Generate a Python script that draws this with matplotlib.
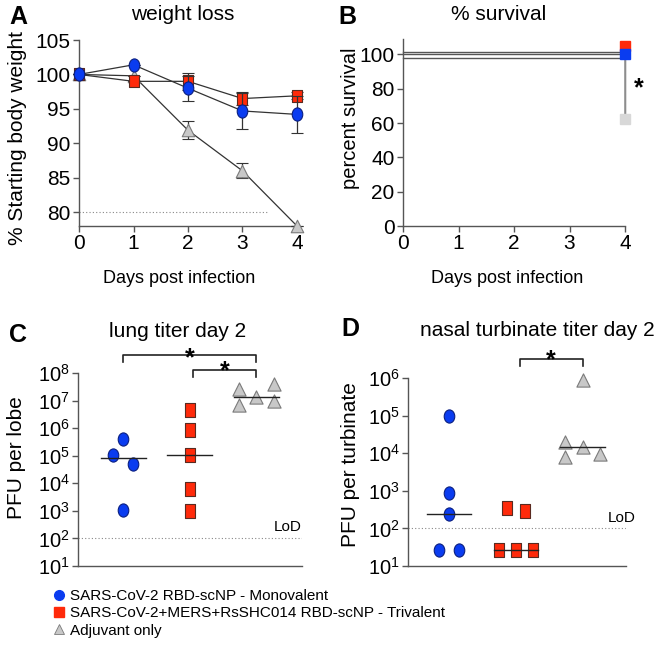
import numpy as np
import matplotlib
matplotlib.use('Agg')
import matplotlib.pyplot as plt
from matplotlib.path import Path
from matplotlib.transforms import Affine2D
from matplotlib.lines import Line2D
from matplotlib.ticker import FixedLocator, NullLocator, FixedFormatter

plt.rcParams['font.family'] = ['Liberation Sans', 'DejaVu Sans']
plt.rcParams['mathtext.fontset'] = 'custom'
plt.rcParams['mathtext.rm'] = 'Liberation Sans'
plt.rcParams['mathtext.it'] = 'Liberation Sans:italic'
plt.rcParams['mathtext.bf'] = 'Liberation Sans:bold'

# ---------------- data ----------------
group_names = ['SARS-CoV-2 RBD-scNP - Monovalent',
               'SARS-CoV-2+MERS+RsSHC014 RBD-scNP - Trivalent',
               'Adjuvant only']

days = [0, 1, 2, 3, 4]
weight_mono = [100.0, 101.4, 98.0, 94.7, 94.2]
weight_mono_err = [0.0, 0.0, 1.8, 2.6, 2.7]
weight_tri = [100.0, 99.0, 99.0, 96.5, 96.9]
weight_tri_err = [0.0, 0.0, 1.2, 1.0, 0.5]
weight_adj = [100.0, 99.8, 91.9, 86.0, 78.0]
weight_adj_err = [0.0, 0.0, 1.3, 1.1, 0.0]
weight_threshold = 80

surv_days = [0, 4]
surv_mono = [100, 100]
surv_tri = [100, 100]
surv_adj = [100, 62.5]

lung_mono = [3.9e5, 1.1e5, 5.2e4, 1.1e3]
lung_tri = [4.5e6, 8.3e5, 1.05e5, 6.0e3, 1.0e3]
lung_adj = [2.7e7, 6.8e6, 1.3e7, 4.1e7, 1.0e7]

nasal_mono = [1.0e5, 850, 245, 27, 27]
nasal_tri = [355, 290, 26, 26, 26]
nasal_adj = [8.7e5, 2.0e4, 7.9e3, 1.5e4, 9.8e3]

lod = 100

# ---------------- styles ----------------
BLUE = '#0a3cf0'
BLUE_E = '#0a1f80'
RED = '#ff2a0a'
RED_E = '#5a2a20'
GRAY = '#c8c8c8'
GRAY_E = '#7a7a7a'
AX = '#555555'

ell = Path.unit_circle().transformed(Affine2D().scale(0.8, 1.0))
rect = Path([(-0.4, -0.5), (0.4, -0.5), (0.4, 0.5), (-0.4, 0.5), (-0.4, -0.5)],
            [Path.MOVETO, Path.LINETO, Path.LINETO, Path.LINETO, Path.CLOSEPOLY])
tri = Path([(-0.5, -0.5), (0.5, -0.5), (0.0, 0.5), (-0.5, -0.5)],
           [Path.MOVETO, Path.LINETO, Path.LINETO, Path.CLOSEPOLY])

W, H = 664, 657
fig = plt.figure(figsize=(W / 100, H / 100), dpi=100)


def ax_px(l, t, r, b):
    return fig.add_axes([l / W, 1 - b / H, (r - l) / W, (b - t) / H])


def ftext(x, y, s, **kw):
    return fig.text(x / W, 1 - y / H, s, **kw)


def style(ax):
    for s in ['top', 'right']:
        ax.spines[s].set_visible(False)
    for s in ['left', 'bottom']:
        ax.spines[s].set_color(AX)
        ax.spines[s].set_linewidth(1.0)
    ax.tick_params(direction='out', length=4, width=1.0, color=AX, pad=2,
                   labelsize=15, labelcolor='black')


# ---------------- A: weight loss ----------------
axA = ax_px(79, 40, 297, 226)
style(axA)
axA.set_xlim(0, 4)
axA.set_ylim(78, 105)
axA.set_xticks(days)
axA.set_yticks([80, 85, 90, 95, 100, 105])
axA.hlines(weight_threshold, 0, 3.47, colors='#888888', linestyles=(0, (1, 2)), lw=0.8)
specs = [(weight_adj, weight_adj_err, tri, GRAY, GRAY_E, 9, 3),
         (weight_tri, weight_tri_err, rect, RED, RED_E, 9, 4),
         (weight_mono, weight_mono_err, ell, BLUE, BLUE_E, 9.5, 5)]
for vals, err, mk, fc, ec, ms, z in specs:
    axA.errorbar(days, vals, yerr=err, color='#333333', lw=0.9, elinewidth=0.9,
                 capsize=4, capthick=0.9, marker=mk, ms=ms, mfc=fc, mec=ec, mew=0.8,
                 zorder=z, clip_on=False)

# ---------------- B: survival ----------------
axB = ax_px(403, 39, 625, 226)
style(axB)
axB.set_xlim(0, 4)
axB.set_ylim(0, 109)
axB.set_xticks([0, 1, 2, 3, 4])
axB.set_yticks([0, 20, 40, 60, 80, 100])
surv_offsets = [1.5, 0.0, -2.0]
for vals, off in zip([surv_tri, surv_mono], surv_offsets[:2]):
    axB.plot([surv_days[0], surv_days[1]], [vals[0] + off, vals[0] + off],
             color='#555555', lw=1.0, clip_on=False)
axB.step(surv_days, [v + surv_offsets[2] if v == 100 else v for v in surv_adj],
         where='post', color='#555555', lw=1.0, clip_on=False)
axB.plot([surv_days[1], surv_days[1]], [100 + surv_offsets[2], surv_adj[1]],
         color='#999999', lw=1.2, clip_on=False, zorder=3)
axB.plot(surv_days[1], surv_adj[1], 's', ms=6.5, color='#d8d8d8', clip_on=False, zorder=4)
axB.plot(surv_days[1], surv_tri[1] + 5, 's', ms=6.5, color=RED, clip_on=False, zorder=4)
axB.plot(surv_days[1], surv_mono[1] + 0.5, 's', ms=6.5, color=BLUE, clip_on=False, zorder=5)
axB.text(4.24, 87, '*', fontsize=18, fontweight='bold', ha='center', va='top')


# ---------------- C & D: titers ----------------
def titer_panel(ax, groups, offsets, xlim, ylim, dec, med_half):
    style(ax)
    ax.set_yscale('log')
    ax.set_xlim(*xlim)
    ax.set_ylim(*ylim)
    ax.xaxis.set_major_locator(NullLocator())
    ax.tick_params(axis='x', length=0)
    ticks = [10.0 ** k for k in dec]
    ax.yaxis.set_major_locator(FixedLocator(ticks))
    ax.yaxis.set_minor_locator(NullLocator())
    ax.yaxis.set_major_formatter(FixedFormatter([r'$\mathregular{10^{%d}}$' % k for k in dec]))
    ax.tick_params(axis='y', labelsize=14.5)
    ax.axhline(lod, color='#888888', ls=(0, (1, 2)), lw=0.8)
    mk = [ell, rect, tri]
    fcs = [BLUE, RED, GRAY]
    ecs = [BLUE_E, RED_E, GRAY_E]
    for i, (vals, off) in enumerate(zip(groups, offsets)):
        x = i + 1 + np.array(off)
        ax.plot(x, vals, ls='none', marker=mk[i], ms=9.5, mfc=fcs[i], mec=ecs[i],
                mew=0.8, zorder=3, clip_on=False)
        m = np.median(vals)
        ax.plot([i + 1 - med_half, i + 1 + med_half], [m, m], color='#222222', lw=1.0, zorder=4)


axC = ax_px(78, 373, 302, 566)
titer_panel(axC, [lung_mono, lung_tri, lung_adj],
            [[0, -0.15, 0.14, 0], [0, 0, 0, 0, 0], [-0.26, -0.26, 0, 0.27, 0.27]],
            (0.32, 3.69), (10, 1e8), range(1, 9), 0.34)
axC.text(3.68, 10 ** 2.15, 'LoD', fontsize=11, ha='right', va='bottom')
# brackets
bk = dict(color='#222222', lw=1.2, clip_on=False)
axC.plot([1, 1, 3, 3], [10 ** 8.40, 10 ** 8.64, 10 ** 8.64, 10 ** 8.40], **bk)
axC.plot([2.05, 2.05, 3, 3], [10 ** 7.84, 10 ** 8.10, 10 ** 8.10, 10 ** 7.84], **bk)
axC.text(2.0, 10 ** 8.96, '*', fontsize=18, fontweight='bold', ha='center', va='top')
axC.text(2.53, 10 ** 8.48, '*', fontsize=18, fontweight='bold', ha='center', va='top')

axD = ax_px(408, 378, 626, 566)
titer_panel(axD, [nasal_mono, nasal_tri, nasal_adj],
            [[0, 0, 0, -0.15, 0.15], [-0.125, 0.135, -0.25, 0, 0.26], [0, -0.26, -0.26, 0, 0.26]],
            (0.39, 3.65), (10, 1e6), range(1, 7), 0.33)
axD.text(3.8, 10 ** 2.08, 'LoD', fontsize=11, ha='right', va='bottom', clip_on=False)
axD.plot([2.07, 2.07, 3, 3], [10 ** 6.32, 10 ** 6.50, 10 ** 6.50, 10 ** 6.32], **bk)
axD.text(2.53, 10 ** 6.78, '*', fontsize=18, fontweight='bold', ha='center', va='top')

# ---------------- titles, labels, letters ----------------
tkw = dict(fontsize=15, ha='center', va='baseline')
ftext(183, 20, 'weight loss', **tkw)
ftext(499, 20.5, '% survival', **tkw)
ftext(178, 337, 'lung titer day 2', **tkw)
ftext(537, 336.5, 'nasal turbinate titer day 2', **tkw)

xl = dict(fontsize=13, ha='center', va='baseline')
ftext(179, 283, 'Days post infection', **xl)
ftext(507, 283, 'Days post infection', **xl)

yl = dict(fontsize=15, ha='center', va='center', rotation=90)
ftext(17.5, 138, '% Starting body weight', **yl)
ftext(350, 118, 'percent survival', fontsize=14.5, ha='center', va='center', rotation=90)
ftext(16.7, 458, 'PFU per lobe', **yl)
ftext(350, 465, 'PFU per turbinate', **yl)

lk = dict(fontsize=18, fontweight='bold', ha='left', va='baseline')
ftext(9, 23.5, 'A', **lk)
ftext(338, 23.5, 'B', **lk)
ftext(9, 341.5, 'C', **lk)
ftext(341, 336.5, 'D', **lk)

# ---------------- legend ----------------
handles = [Line2D([], [], ls='none', marker='o', ms=7, mfc=BLUE, mec=BLUE),
           Line2D([], [], ls='none', marker='s', ms=6.5, mfc=RED, mec=RED),
           Line2D([], [], ls='none', marker='^', ms=6.5, mfc=GRAY, mec=GRAY_E, mew=0.6)]
fig.legend(handles, group_names, loc='upper left', bbox_to_anchor=(54 / W, 1 - 589 / H),
           frameon=False, fontsize=11, handlelength=0.7, handletextpad=0.35,
           labelspacing=0.22, borderpad=0, borderaxespad=0)

fig.savefig('out.png', dpi=100)
